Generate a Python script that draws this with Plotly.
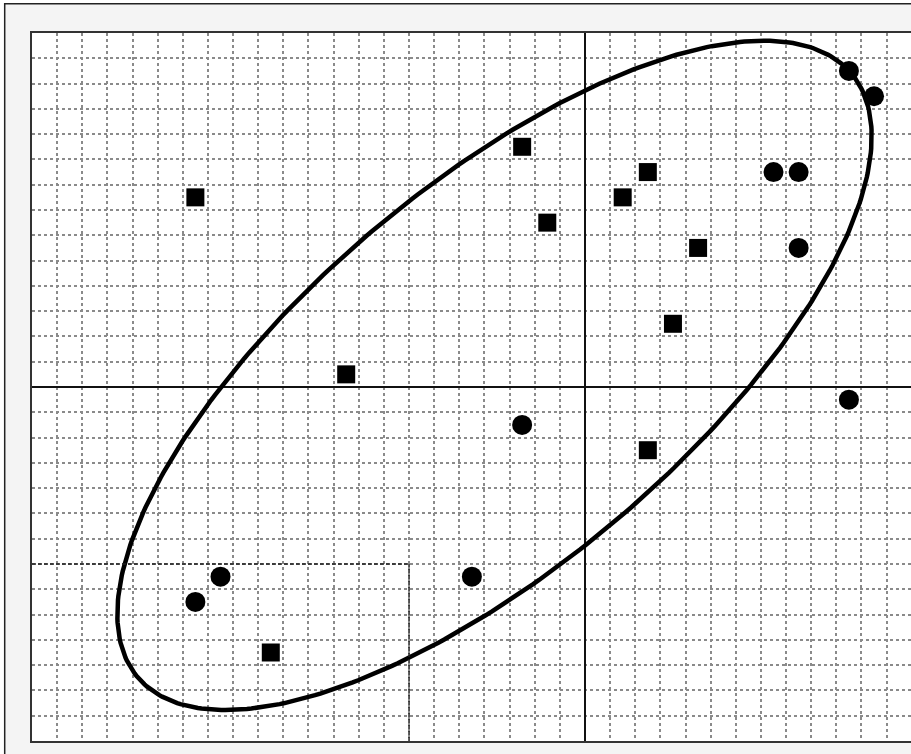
import numpy as np
import plotly.graph_objects as go

# Data (grid-cell units, origin at the solid axes)
square_x = [-15.5, -2.5, -1.5, 2.5, 1.5, 4.5, 3.5, -9.5, 2.5, -12.5]
square_y = [7.5, 9.5, 6.5, 8.5, 7.5, 5.5, 2.5, 0.5, -2.5, -10.5]
circle_x = [10.5, 11.5, 7.5, 8.5, 8.5, 10.5, -2.5, -14.5, -15.5, -4.5]
circle_y = [12.5, 11.5, 8.5, 8.5, 5.5, -0.5, -1.5, -7.5, -8.5, -7.5]

# Ellipse parameters: centre, semi-axes, rotation (degrees)
ell_center = (-3.6, 0.46)
ell_axes = (18.55, 7.5)
ell_angle = 40.0

# Dashed region (x0, x1, y0, y1)
region = (-22, -7, -14, -7)

x_range = [-22, 12.97]
y_range = [-14, 14]

W, H = 911, 754
ML, MR, MT, MB = 32, 0, 33, 13
pw = W - ML - MR
ph = H - MT - MB


def px_to_paper_x(p):
    return (p - ML) / pw


def px_to_paper_y(q):
    return (H - MB - q) / ph


t = np.linspace(0, 2 * np.pi, 400)
th = np.radians(ell_angle)
ex = ell_center[0] + ell_axes[0] * np.cos(t) * np.cos(th) - ell_axes[1] * np.sin(t) * np.sin(th)
ey = ell_center[1] + ell_axes[0] * np.cos(t) * np.sin(th) + ell_axes[1] * np.sin(t) * np.cos(th)

fig = go.Figure()
fig.add_trace(go.Scatter(x=ex, y=ey, mode="lines",
                         line=dict(color="black", width=4.5), hoverinfo="skip"))
fig.add_trace(go.Scatter(x=square_x, y=square_y, mode="markers",
                         marker=dict(symbol="square", size=18, color="black",
                                     line=dict(width=0))))
fig.add_trace(go.Scatter(x=circle_x, y=circle_y, mode="markers",
                         marker=dict(symbol="circle", size=20, color="black",
                                     line=dict(width=0))))

shapes = []
# dashed region (top and right edges)
shapes.append(dict(type="line", xref="x", yref="y", x0=region[0], x1=region[1],
                   y0=region[3], y1=region[3], line=dict(color="#222", width=1.5, dash="4px,2px")))
shapes.append(dict(type="line", xref="x", yref="y", x0=region[1], x1=region[1],
                   y0=region[2], y1=region[3], line=dict(color="#222", width=1.5, dash="4px,2px")))
# white strips outside outer frame
shapes.append(dict(type="rect", xref="paper", yref="paper",
                   x0=px_to_paper_x(-5), x1=px_to_paper_x(4), y0=px_to_paper_y(H + 5), y1=px_to_paper_y(-5),
                   fillcolor="white", line=dict(width=0), layer="above"))
shapes.append(dict(type="rect", xref="paper", yref="paper",
                   x0=px_to_paper_x(-5), x1=px_to_paper_x(W + 5), y0=px_to_paper_y(3), y1=px_to_paper_y(-5),
                   fillcolor="white", line=dict(width=0), layer="above"))
# outer frame
shapes.append(dict(type="line", xref="paper", yref="paper",
                   x0=px_to_paper_x(4.7), x1=px_to_paper_x(4.7), y0=px_to_paper_y(3), y1=px_to_paper_y(H + 5),
                   line=dict(color="#222", width=1.5)))
shapes.append(dict(type="line", xref="paper", yref="paper",
                   x0=px_to_paper_x(4), x1=px_to_paper_x(W + 5), y0=px_to_paper_y(3.7), y1=px_to_paper_y(3.7),
                   line=dict(color="#222", width=1.5)))

axis_common = dict(showgrid=True, griddash="dot", gridcolor="#8a8a8a", gridwidth=1.5,
                   dtick=1, tick0=0, showticklabels=False, ticks="",
                   zeroline=True, zerolinecolor="#111", zerolinewidth=2,
                   showline=True, linecolor="#333", linewidth=2, fixedrange=True)

fig.update_layout(
    width=W, height=H,
    margin=dict(l=ML, r=MR, t=MT, b=MB, pad=0),
    paper_bgcolor="#f4f4f4", plot_bgcolor="white",
    showlegend=False,
    xaxis=dict(range=x_range, mirror=True, **axis_common),
    yaxis=dict(range=y_range, mirror=False, **axis_common),
    shapes=shapes,
)

fig.write_html("out.html", config={"displayModeBar": False},
               post_script="document.body.style.margin='0px';document.body.style.overflow='hidden';")
